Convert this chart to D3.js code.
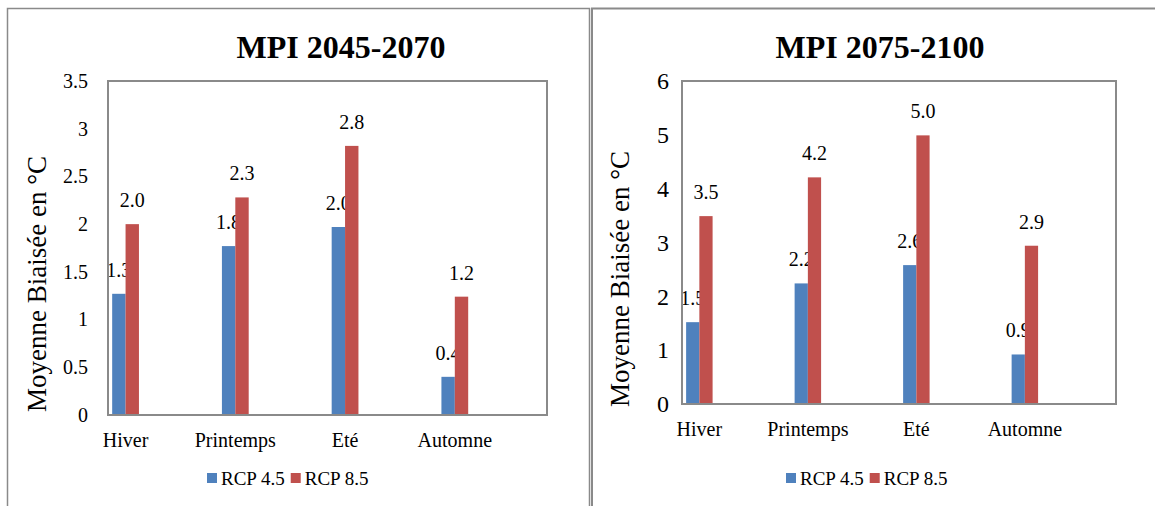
<!DOCTYPE html>
<html>
<head>
<meta charset="utf-8">
<script src="https://cdn.jsdelivr.net/npm/d3@7"></script>
<style>
  body { margin: 0; background: #fff; }
  svg { display: block; font-family: "Liberation Serif", "Times New Roman", serif; }
</style>
</head>
<body>
<svg id="chart" width="1155" height="506"></svg>
<script>
// categories and series
const seasons = ['Hiver', 'Printemps', 'Eté', 'Automne'];
const seriesNames = ['RCP 4.5', 'RCP 8.5'];

// MPI 2045-2070
const rcp45_2045 = [1.27, 1.77, 1.97, 0.40];
const rcp85_2045 = [2.00, 2.28, 2.82, 1.24];
const ticks_2045 = [0, 0.5, 1, 1.5, 2, 2.5, 3, 3.5];

// MPI 2075-2100
const rcp45_2075 = [1.52, 2.24, 2.58, 0.92];
const rcp85_2075 = [3.49, 4.21, 4.99, 2.94];
const ticks_2075 = [0, 1, 2, 3, 4, 5, 6];

const colors = ['#4F81BD', '#C0504D'];
const yTitle = 'Moyenne  Biaisée en °C';

const svg = d3.select('#chart');

// panel borders
svg.append('rect')
	.attr('x', 7.5).attr('y', 8.5).attr('width', 582).attr('height', 600)
	.attr('fill', 'none').attr('stroke', '#8a8a8a').attr('stroke-width', 1.5);
svg.append('rect')
	.attr('x', 592).attr('y', 8.5).attr('width', 600).attr('height', 600)
	.attr('fill', 'none').attr('stroke', '#8a8a8a').attr('stroke-width', 2);

drawPanel({
	title: 'MPI 2045-2070', titleX: 341,
	values: [rcp45_2045, rcp85_2045], ticks: ticks_2045,
	left: 108, right: 547, top: 81, bottom: 415,
	tickX: 88, tickSize: 20, yTitleX: 37, yTitleY: 284,
	catY: 447, legendX: 207
});

drawPanel({
	title: 'MPI 2075-2100', titleX: 880,
	values: [rcp45_2075, rcp85_2075], ticks: ticks_2075,
	left: 682, right: 1116, top: 81, bottom: 404,
	tickX: 669, tickSize: 24, yTitleX: 620, yTitleY: 279,
	catY: 436, legendX: 786
});

function drawPanel(cfg) {
	const g = svg.append('g');

	const x = d3.scaleBand()
		.domain(seasons)
		.range([cfg.left, cfg.right]);

	const y = d3.scaleLinear()
		.domain([0, d3.max(cfg.ticks)])
		.range([cfg.bottom, cfg.top]);

	const barW = x.bandwidth() * 0.122;
	const groupCenter = (s) => x(s) + x.bandwidth() * 0.16;

	// title
	g.append('text')
		.attr('x', cfg.titleX).attr('y', 58)
		.attr('text-anchor', 'middle')
		.attr('font-size', 32).attr('font-weight', 'bold')
		.text(cfg.title);

	// y tick labels
	const yAxis = d3.axisLeft(y).tickValues(cfg.ticks).tickSize(0).tickPadding(0)
		.tickFormat(d3.format('~g'));
	g.append('g')
		.attr('transform', `translate(${cfg.tickX},0)`)
		.call(yAxis)
		.attr('font-family', null)
		.call(a => a.select('.domain').remove())
		.call(a => a.selectAll('text')
			.attr('font-size', cfg.tickSize)
			.attr('fill', '#000'));

	// y title
	g.append('text')
		.attr('transform', `translate(${cfg.yTitleX},${cfg.yTitleY}) rotate(-90)`)
		.attr('text-anchor', 'middle')
		.attr('dy', '0.35em')
		.attr('font-size', 27)
		.text(yTitle);

	// bars
	cfg.values.forEach((vals, si) => {
		const data = seasons.map((s, i) => ({ s, v: vals[i] }));
		const bx = (d) => groupCenter(d.s) + (si - 1) * barW;
		g.append('g').selectAll('rect')
			.data(data)
			.enter().append('rect')
			.attr('x', bx)
			.attr('y', d => y(d.v))
			.attr('width', barW)
			.attr('height', d => y(0) - y(d.v))
			.attr('fill', colors[si]);

		g.append('g').selectAll('text')
			.data(data)
			.enter().append('text')
			.attr('x', d => bx(d) + barW / 2)
			.attr('y', d => y(d.v) - 17)
			.attr('text-anchor', 'middle')
			.attr('font-size', 20)
			.text(d => d.v.toFixed(1));
	});

	// plot frame
	g.append('rect')
		.attr('x', cfg.left).attr('y', cfg.top)
		.attr('width', cfg.right - cfg.left).attr('height', cfg.bottom - cfg.top)
		.attr('fill', 'none').attr('stroke', '#8a8a8a').attr('stroke-width', 2);

	// category labels
	g.append('g').selectAll('text')
		.data(seasons)
		.enter().append('text')
		.attr('x', d => groupCenter(d))
		.attr('y', cfg.catY)
		.attr('text-anchor', 'middle')
		.attr('font-size', 20)
		.text(d => d);

	// legend
	const leg = g.append('g').attr('transform', `translate(${cfg.legendX},478)`);
	let lx = 0;
	seriesNames.forEach((name, i) => {
		leg.append('rect')
			.attr('x', lx).attr('y', -5).attr('width', 10).attr('height', 10)
			.attr('fill', colors[i]);
		const t = leg.append('text')
			.attr('x', lx + 14).attr('y', 7)
			.attr('font-size', 19)
			.text(name);
		lx += 14 + t.node().getComputedTextLength() + 6;
	});
}
</script>
</body>
</html>
